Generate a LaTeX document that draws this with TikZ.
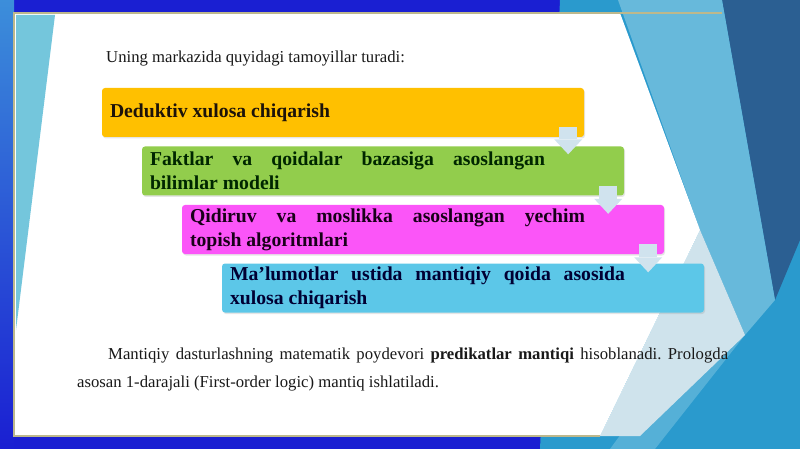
\documentclass[tikz,border=0pt]{standalone}
\usepackage{fontspec}
\setmainfont{Liberation Serif}
\usepackage{tikz}
\usetikzlibrary{arrows.meta,calc,positioning,shadows}
\definecolor{slideblue}{HTML}{1A1FD2}
\definecolor{sideblue}{HTML}{3C8EDA}
\definecolor{stripcyan}{HTML}{74C6DC}
\definecolor{midblue}{HTML}{2A9ACD}
\definecolor{navyblue}{HTML}{2B5F92}
\definecolor{lightblue}{HTML}{67B9DB}
\definecolor{paleblue}{HTML}{CFE3EC}
\definecolor{framegold}{HTML}{BDB88C}
\definecolor{boxorange}{HTML}{FFC000}
\definecolor{boxgreen}{HTML}{92CD4C}
\definecolor{boxpink}{HTML}{FB55F8}
\definecolor{boxcyan}{HTML}{5CC7E8}
\definecolor{arrowblue}{HTML}{D0E3EE}
\tikzstyle{box} = [rectangle, rounded corners=3pt, text width=466pt, inner xsep=8pt, inner ysep=1pt, minimum height=49pt, align=justify, font=\fontsize{19.7}{24}\selectfont\bfseries, drop shadow={opacity=0.2, shadow xshift=1pt, shadow yshift=-1.5pt}]
\tikzstyle{down} = [line width=18pt, draw=arrowblue, -{Triangle[width=28pt, length=15pt, line width=0pt]}]
\tikzstyle{plain} = [inner sep=0pt, align=left, text=black!90, font=\fontsize{16.7}{28}\selectfont\frenchspacing]
\tikzstyle{frame} = [draw=framegold, line width=2.5pt]
\newcommand{\boxlines}[1]{\parbox{395pt}{\leftskip=0pt\rightskip=0pt\spaceskip=0pt\xspaceskip=0pt\relax #1}}

\begin{document}
\begin{tikzpicture}[x=1pt, y=-1pt, node distance=58.5pt, >=latex]
    \useasboundingbox (0,0) rectangle (800,449);
    % slide background
    \fill [slideblue] (0,0) rectangle (800,449);
    \shade [top color=sideblue, bottom color=slideblue] (0,0) rectangle (14,449);
    \fill [midblue] (560,0) -- (800,0) -- (800,449) -- (540,449) -- cycle;
    \fill [navyblue] (722,0) -- (800,0) -- (800,240) -- (775,300) -- cycle;
    \fill [lightblue] (618,0) -- (722,0) -- (775,300) -- (745,335) -- (700,230) -- cycle;
    \fill [lightblue!70!midblue] (745,335) -- (655,449) -- (610,449) -- (690,340) -- cycle;
    \fill [paleblue] (700,230) -- (745,335) -- (640,436) -- (600,436) -- cycle;
    \fill [white] (14,13) -- (620,13) -- (700,230) -- (600,436) -- (14,436) -- cycle;
    \fill [stripcyan] (16,15) -- (55,15) -- (16,330) -- cycle;
    \draw [frame] (722,13) -- (14,13) -- (14,436) -- (600,436);

    \node [plain, anchor=base west] (intro) at (106,63) {Uning markazida quyidagi tamoyillar turadi:};

    % staircase of principles
    \node [box, fill=boxorange, text=black!85!brown] (deduction) at (343,112.5) {\raisebox{-2pt}{Deduktiv xulosa chiqarish}};
    \node [box, fill=boxgreen, text=black!85!green, below of=deduction, xshift=40pt] (facts) {\boxlines{Faktlar va qoidalar bazasiga asoslangan\linebreak bilimlar modeli}};
    \node [box, fill=boxpink, text=black!80!violet, below of=facts, xshift=40pt] (search) {\boxlines{Qidiruv va moslikka asoslangan yechim\linebreak topish algoritmlari}};
    \node [box, fill=boxcyan, text=black!80!blue, below of=search, xshift=40pt] (rules) {\boxlines{Ma’lumotlar ustida mantiqiy qoida asosida\linebreak xulosa chiqarish}};

    \draw [down] ($(deduction.south east)+(-16pt,10pt)$) -- ($(deduction.south east |- facts.north)+(-16pt,-8pt)$);
    \draw [down] ($(facts.south east)+(-16pt,10pt)$) -- ($(facts.south east |- search.north)+(-16pt,-9pt)$);
    \draw [down] ($(search.south east)+(-16pt,10pt)$) -- ($(search.south east |- rules.north)+(-16pt,-9pt)$);

    \node [plain, text width=651pt, align=justify, anchor=north west] (prolog) at (77,348) {\hspace*{31pt}Mantiqiy dasturlashning matematik poydevori \textbf{predikatlar mantiqi} hisoblanadi. Prologda\linebreak asosan 1-darajali (First-order logic) mantiq ishlatiladi.};
\end{tikzpicture}
\end{document}
